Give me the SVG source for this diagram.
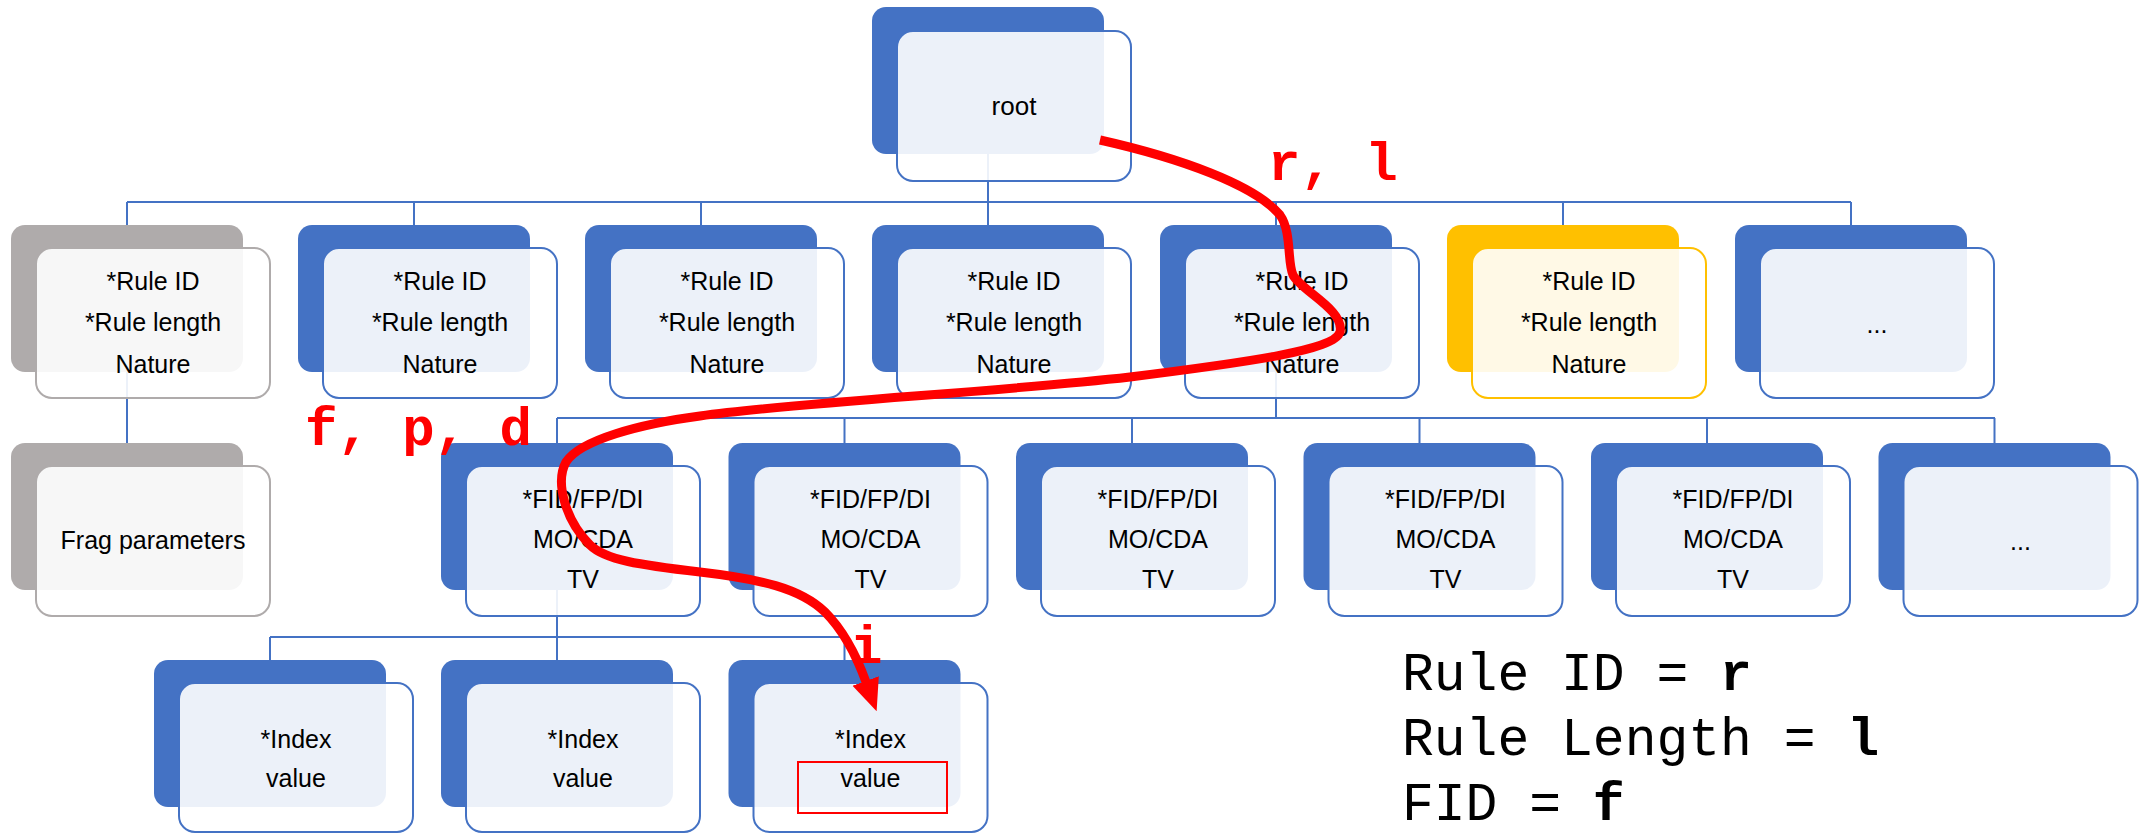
<svg xmlns="http://www.w3.org/2000/svg" width="2140" height="833" viewBox="0 0 2140 833">
<style>
.bk{fill:#4472C4}
.bkg{fill:#AFABAB}
.bky{fill:#FFC000}
.fr{fill:#FFFFFF;fill-opacity:0.9;stroke:#4472C4;stroke-width:2}
.frg{fill:#FFFFFF;fill-opacity:0.9;stroke:#AFABAB;stroke-width:2}
.fry{fill:#FFFFFF;fill-opacity:0.9;stroke:#FFC000;stroke-width:2}
.t{font-family:"Liberation Sans",Arial,sans-serif;font-size:25px;fill:#000;text-anchor:middle}
.con{stroke:#4472C4;stroke-width:2;fill:none}
.red{font-family:"Liberation Mono","Courier New",monospace;font-weight:bold;font-size:54px;fill:#FF0000}
.leg{font-family:"Liberation Mono","Courier New",monospace;font-size:53px;fill:#000}
</style>
<defs>
<marker id="ah" markerUnits="userSpaceOnUse" markerWidth="32" markerHeight="30" viewBox="0 0 32 30" refX="1" refY="15" orient="auto">
<path d="M0,1 L32,15 L0,29 z" fill="#FF0000"/>
</marker>
</defs>
<g id="connectors">
<path class="con" d="M988,154 V225"/>
<path class="con" d="M127,202 H1851"/>
<path class="con" d="M127,202 V443 M414,202 V225 M701,202 V225 M1276,202 V418 M1563,202 V225 M1851,202 V225"/>
<path class="con" d="M557,418 H1995"/>
<path class="con" d="M557,418 V660 M844.5,418 V443 M1132,418 V443 M1419.5,418 V443 M1707,418 V443 M1994.5,418 V443"/>
<path class="con" d="M270,637 H844.5 M270,637 V660 M844.5,637 V660"/>
</g>
<g id="root">
<rect class="bk" x="872" y="7" width="232" height="147" rx="14"/>
<rect class="fr" x="897" y="31" width="234" height="150" rx="16"/>
<text class="t" x="1014" y="115" style="font-size:26px">root</text>
</g>
<g id="rule1">
<rect class="bkg" x="11" y="225" width="232" height="147" rx="14"/>
<rect class="frg" x="36" y="248" width="234" height="150" rx="16"/>
<text class="t" x="153" y="290">*Rule ID</text>
<text class="t" x="153" y="331">*Rule length</text>
<text class="t" x="153" y="373">Nature</text>
</g>
<g id="rule2">
<rect class="bk" x="298" y="225" width="232" height="147" rx="14"/>
<rect class="fr" x="323" y="248" width="234" height="150" rx="16"/>
<text class="t" x="440" y="290">*Rule ID</text>
<text class="t" x="440" y="331">*Rule length</text>
<text class="t" x="440" y="373">Nature</text>
</g>
<g id="rule3">
<rect class="bk" x="585" y="225" width="232" height="147" rx="14"/>
<rect class="fr" x="610" y="248" width="234" height="150" rx="16"/>
<text class="t" x="727" y="290">*Rule ID</text>
<text class="t" x="727" y="331">*Rule length</text>
<text class="t" x="727" y="373">Nature</text>
</g>
<g id="rule4">
<rect class="bk" x="872" y="225" width="232" height="147" rx="14"/>
<rect class="fr" x="897" y="248" width="234" height="150" rx="16"/>
<text class="t" x="1014" y="290">*Rule ID</text>
<text class="t" x="1014" y="331">*Rule length</text>
<text class="t" x="1014" y="373">Nature</text>
</g>
<g id="rule5">
<rect class="bk" x="1160" y="225" width="232" height="147" rx="14"/>
<rect class="fr" x="1185" y="248" width="234" height="150" rx="16"/>
<text class="t" x="1302" y="290">*Rule ID</text>
<text class="t" x="1302" y="331">*Rule length</text>
<text class="t" x="1302" y="373">Nature</text>
</g>
<g id="rule6">
<rect class="bky" x="1447" y="225" width="232" height="147" rx="14"/>
<rect class="fry" x="1472" y="248" width="234" height="150" rx="16"/>
<text class="t" x="1589" y="290">*Rule ID</text>
<text class="t" x="1589" y="331">*Rule length</text>
<text class="t" x="1589" y="373">Nature</text>
</g>
<g id="rule7">
<rect class="bk" x="1735" y="225" width="232" height="147" rx="14"/>
<rect class="fr" x="1760" y="248" width="234" height="150" rx="16"/>
<text class="t" x="1877" y="333">...</text>
</g>
<g id="frag">
<rect class="bkg" x="11" y="443" width="232" height="147" rx="14"/>
<rect class="frg" x="36" y="466" width="234" height="150" rx="16"/>
<text class="t" x="153" y="549">Frag parameters</text>
</g>
<g id="fid1">
<rect class="bk" x="441" y="443" width="232" height="147" rx="14"/>
<rect class="fr" x="466" y="466" width="234" height="150" rx="16"/>
<text class="t" x="583" y="508">*FID/FP/DI</text>
<text class="t" x="583" y="548">MO/CDA</text>
<text class="t" x="583" y="588">TV</text>
</g>
<g id="fid2">
<rect class="bk" x="728.5" y="443" width="232" height="147" rx="14"/>
<rect class="fr" x="753.5" y="466" width="234" height="150" rx="16"/>
<text class="t" x="870.5" y="508">*FID/FP/DI</text>
<text class="t" x="870.5" y="548">MO/CDA</text>
<text class="t" x="870.5" y="588">TV</text>
</g>
<g id="fid3">
<rect class="bk" x="1016" y="443" width="232" height="147" rx="14"/>
<rect class="fr" x="1041" y="466" width="234" height="150" rx="16"/>
<text class="t" x="1158" y="508">*FID/FP/DI</text>
<text class="t" x="1158" y="548">MO/CDA</text>
<text class="t" x="1158" y="588">TV</text>
</g>
<g id="fid4">
<rect class="bk" x="1303.5" y="443" width="232" height="147" rx="14"/>
<rect class="fr" x="1328.5" y="466" width="234" height="150" rx="16"/>
<text class="t" x="1445.5" y="508">*FID/FP/DI</text>
<text class="t" x="1445.5" y="548">MO/CDA</text>
<text class="t" x="1445.5" y="588">TV</text>
</g>
<g id="fid5">
<rect class="bk" x="1591" y="443" width="232" height="147" rx="14"/>
<rect class="fr" x="1616" y="466" width="234" height="150" rx="16"/>
<text class="t" x="1733" y="508">*FID/FP/DI</text>
<text class="t" x="1733" y="548">MO/CDA</text>
<text class="t" x="1733" y="588">TV</text>
</g>
<g id="fid6">
<rect class="bk" x="1878.5" y="443" width="232" height="147" rx="14"/>
<rect class="fr" x="1903.5" y="466" width="234" height="150" rx="16"/>
<text class="t" x="2020.5" y="550">...</text>
</g>
<g id="idx1">
<rect class="bk" x="154" y="660" width="232" height="147" rx="14"/>
<rect class="fr" x="179" y="683" width="234" height="149" rx="16"/>
<text class="t" x="296" y="748">*Index</text>
<text class="t" x="296" y="787">value</text>
</g>
<g id="idx2">
<rect class="bk" x="441" y="660" width="232" height="147" rx="14"/>
<rect class="fr" x="466" y="683" width="234" height="149" rx="16"/>
<text class="t" x="583" y="748">*Index</text>
<text class="t" x="583" y="787">value</text>
</g>
<g id="idx3">
<rect class="bk" x="728.5" y="660" width="232" height="147" rx="14"/>
<rect class="fr" x="753.5" y="683" width="234" height="149" rx="16"/>
<text class="t" x="870.5" y="748">*Index</text>
<text class="t" x="870.5" y="787">value</text>
<rect x="798" y="762" width="149" height="51" fill="none" stroke="#FF0000" stroke-width="2"/>
</g>
<g id="path-annotation">
<path d="M1100,140 C1180,158 1255,185 1280,215 C1292,232 1287,262 1293,275 C1300,290 1345,310 1340,332 C1335,350 1250,362 1130,377 C1000,392 800,402 700,416 C640,424 580,440 566,462 C555,482 565,520 590,545 C605,560 640,565 700,572 C760,579 800,588 825,612 C845,632 858,660 866,682" fill="none" stroke="#FF0000" stroke-width="9" marker-end="url(#ah)"/>
<text class="red" x="1268" y="180" xml:space="preserve">r, l</text>
<text class="red" x="305" y="445" xml:space="preserve">f, p, d</text>
<text class="red" x="850" y="663">i</text>
</g>
<g id="legend">
<text class="leg" x="1402" y="690" xml:space="preserve">Rule ID = <tspan font-weight="bold">r</tspan></text>
<text class="leg" x="1402" y="755" xml:space="preserve">Rule Length = <tspan font-weight="bold">l</tspan></text>
<text class="leg" x="1402" y="820" xml:space="preserve">FID = <tspan font-weight="bold">f</tspan></text>
</g>
</svg>
